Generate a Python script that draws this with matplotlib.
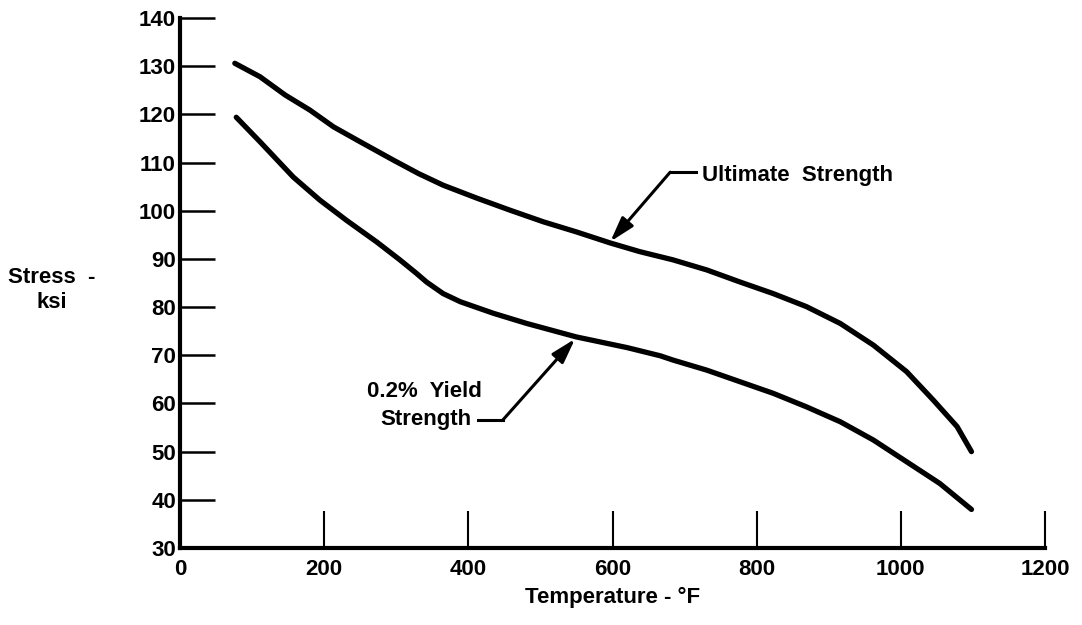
import matplotlib
matplotlib.use("Agg")
import matplotlib.pyplot as plt

# values (temperature in F, stress in ksi)
ult_temp = [76, 111, 146, 180, 213, 250, 296, 331, 365, 412, 458, 504, 550, 597, 638,
            684, 731, 777, 823, 869, 916, 962, 1008, 1045, 1078, 1098]
ult_stress = [130.6, 127.8, 124.0, 120.9, 117.4, 114.3, 110.5, 107.7, 105.3, 102.6, 100.1,
              97.7, 95.6, 93.3, 91.5, 89.8, 87.7, 85.2, 82.8, 80.1, 76.6, 72.1, 66.6,
              60.7, 55.2, 50.0]

yld_temp = [78, 111, 157, 194, 231, 273, 305, 328, 342, 365, 389, 435, 481, 550, 620,
            666, 684, 731, 777, 823, 869, 916, 962, 1008, 1054, 1098]
yld_stress = [119.4, 114.3, 107.0, 102.2, 98.0, 93.5, 89.8, 87.0, 85.2, 82.8, 81.1, 78.7,
              76.6, 73.8, 71.6, 69.9, 69.0, 66.9, 64.5, 62.1, 59.3, 56.2, 52.4, 47.9,
              43.4, 38.0]

xticks = [0, 200, 400, 600, 800, 1000, 1200]
yticks = [30, 40, 50, 60, 70, 80, 90, 100, 110, 120, 130, 140]

plt.rcParams["font.family"] = ["Liberation Sans", "DejaVu Sans"]
plt.rcParams["font.weight"] = "bold"

fig = plt.figure(figsize=(10.82, 6.25), dpi=100)
ax = fig.add_axes([0.1664, 0.1232, 0.7994, 0.848])

ax.plot(ult_temp, ult_stress, color="k", lw=3.8, solid_capstyle="round",
        solid_joinstyle="round")
ax.plot(yld_temp, yld_stress, color="k", lw=3.8, solid_capstyle="round",
        solid_joinstyle="round")

ax.set_xlim(0, 1200)
ax.set_ylim(30, 140)
ax.set_xticks(xticks)
ax.set_yticks(yticks)
ax.tick_params(axis="y", direction="in", length=25, width=1.8, pad=3, labelsize=16)
ax.tick_params(axis="x", direction="in", length=27, width=1.5, pad=8, labelsize=16)

for s in ["top", "right"]:
    ax.spines[s].set_visible(False)
for s in ["left", "bottom"]:
    ax.spines[s].set_linewidth(3)

ax.set_xlabel("Temperature - °F", fontsize=16, fontweight="bold", labelpad=5)
fig.text(52 / 1082, 1 - 290 / 625, "Stress  -\nksi", ha="center", va="center",
         ma="center", fontsize=16, fontweight="bold", linespacing=1.25)

head = "-|>,head_length=1.5,head_width=0.45"

# Ultimate strength callout
ax.text(724, 107.4, "Ultimate  Strength", ha="left", va="center", fontsize=16)
ax.plot([716, 680], [108, 108], color="k", lw=2.2)
ax.annotate("", xy=(597, 93.6), xytext=(680, 108),
            arrowprops=dict(arrowstyle=head, color="k", lw=2.2, shrinkA=0, shrinkB=0))

# 0.2% yield strength callout
ax.text(419, 62.4, "0.2%  Yield", ha="right", va="center", fontsize=16)
ax.text(405, 56.6, "Strength", ha="right", va="center", fontsize=16)
ax.plot([414, 448], [56.6, 56.6], color="k", lw=2.2)
ax.annotate("", xy=(548, 73.4), xytext=(448, 56.6),
            arrowprops=dict(arrowstyle=head, color="k", lw=2.2, shrinkA=0, shrinkB=0))

fig.savefig("out.png", dpi=100)
